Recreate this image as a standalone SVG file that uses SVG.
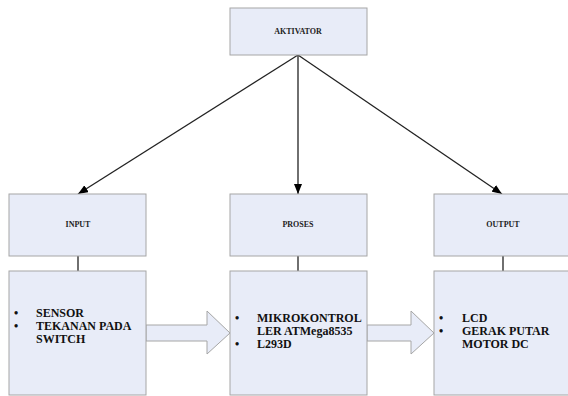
<svg xmlns="http://www.w3.org/2000/svg" width="568" height="396" viewBox="0 0 568 396">
<defs>
<style>
.box{fill:#E8ECF8;stroke:#A6A6A6;stroke-width:1}
.lbl{font-family:"Liberation Serif","Times New Roman",serif;font-weight:bold;font-size:8px;fill:#222;text-anchor:middle}
.txt{font-family:"Liberation Serif","Times New Roman",serif;font-weight:bold;font-size:12px;fill:#111}
.con{stroke:#222;stroke-width:1.3;fill:none}
.blk{fill:#E8ECF8;stroke:#A6A6A6;stroke-width:1}
</style>
<marker id="ah" viewBox="0 0 10 8" refX="10" refY="4" markerWidth="10" markerHeight="8" markerUnits="userSpaceOnUse" orient="auto">
<path d="M0,0 L10,4 L0,8 Z" fill="#000"/>
</marker>
</defs>
<rect width="568" height="396" fill="#fff"/>
<g id="connectors">
<line class="con" x1="298" y1="55" x2="78" y2="194" marker-end="url(#ah)"/>
<line class="con" x1="298" y1="55" x2="298" y2="194" marker-end="url(#ah)"/>
<line class="con" x1="298" y1="55" x2="502" y2="194" marker-end="url(#ah)"/>
<line class="con" x1="78" y1="256" x2="78" y2="271"/>
<line class="con" x1="298" y1="256" x2="298" y2="271"/>
<line class="con" x1="503" y1="256" x2="503" y2="271"/>
<path class="blk" d="M146,325 L207,325 L207,311 L230,333 L207,354 L207,341 L146,341 Z"/>
<path class="blk" d="M367,325 L411,325 L411,311 L434,333 L411,354 L411,341 L367,341 Z"/>
</g>
<g id="aktivator">
<rect class="box" x="230" y="8" width="137" height="47"/>
<text class="lbl" x="298" y="34" font-size="8.5">AKTIVATOR</text>
</g>
<g id="input">
<rect class="box" x="9" y="194" width="137" height="62"/>
<text class="lbl" x="78" y="227">INPUT</text>
</g>
<g id="proses">
<rect class="box" x="230" y="194" width="137" height="62"/>
<text class="lbl" x="298" y="227">PROSES</text>
</g>
<g id="output">
<rect class="box" x="434" y="194" width="137" height="62"/>
<text class="lbl" x="503" y="227">OUTPUT</text>
</g>
<g id="input-detail">
<rect class="box" x="9" y="271" width="137" height="124"/>
<text class="txt" x="14" y="317">•</text>
<text class="txt" x="14" y="330">•</text>
<text class="txt" x="36" y="317">SENSOR</text>
<text class="txt" x="36" y="330">TEKANAN PADA</text>
<text class="txt" x="36" y="343">SWITCH</text>
</g>
<g id="proses-detail">
<rect class="box" x="230" y="271" width="137" height="124"/>
<text class="txt" x="235" y="322">•</text>
<text class="txt" x="235" y="348">•</text>
<text class="txt" x="257" y="322">MIKROKONTROL</text>
<text class="txt" x="257" y="335">LER ATMega8535</text>
<text class="txt" x="257" y="348">L293D</text>
</g>
<g id="output-detail">
<rect class="box" x="434" y="271" width="137" height="124"/>
<text class="txt" x="439" y="322">•</text>
<text class="txt" x="439" y="335">•</text>
<text class="txt" x="462" y="322">LCD</text>
<text class="txt" x="462" y="335">GERAK PUTAR</text>
<text class="txt" x="462" y="348">MOTOR DC</text>
</g>
</svg>
